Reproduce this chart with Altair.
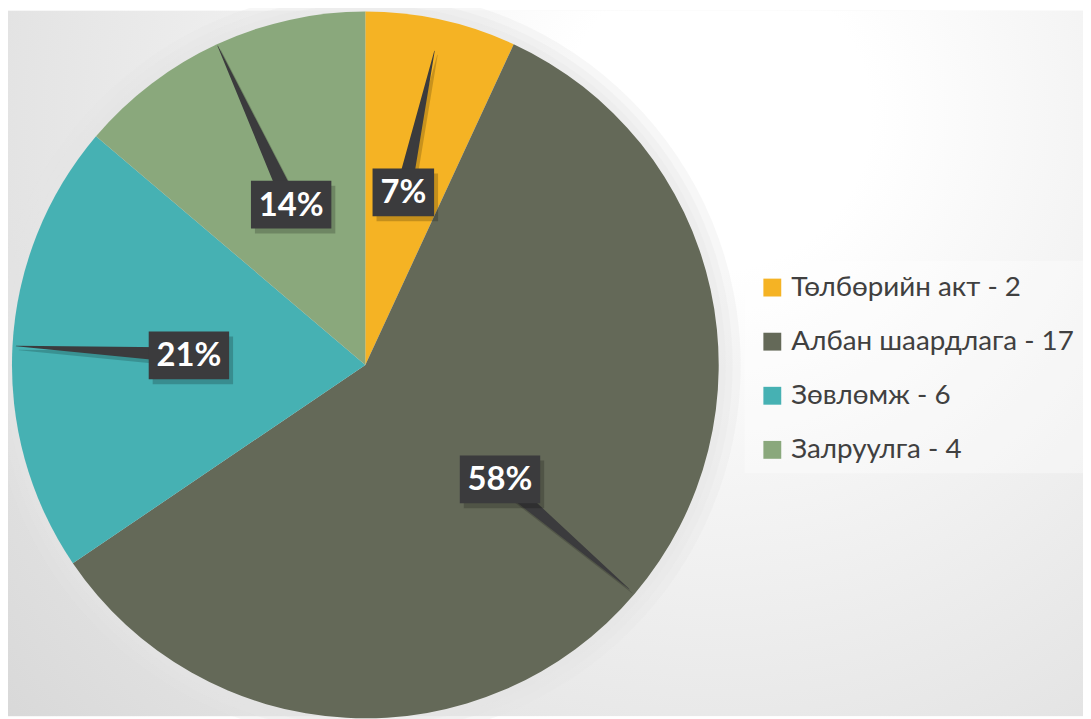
import math
import altair as alt
import pandas as pd

# ---- data ----
categories = ["Төлбөрийн акт", "Албан шаардлага", "Зөвлөмж", "Залруулга"]
counts = [2, 17, 6, 4]
pct_labels = ["7%", "58%", "21%", "14%"]
colors = ["#F5B324", "#646958", "#46B1B3", "#8AA87C"]

# ---- layout (styling) ----
W, H = 1083, 711
CX, CY, R = 360, 357, 356
LABEL_R = 0.5
TIP_R = [0.91, 0.98, 0.99, 0.995]
BOX_H = 48
BOX_FILL = "#3b3b3d"

legend_names = [f"{c} - {n}" for c, n in zip(categories, counts)]
total = sum(counts)

pie_rows, box_rows, lead_rows = [], [], []
cum = 0
for i, (cat, n, lab) in enumerate(zip(categories, counts, pct_labels)):
    a0 = cum / total * 2 * math.pi
    a1 = (cum + n) / total * 2 * math.pi
    mid = (a0 + a1) / 2
    cum += n
    lx = CX + LABEL_R * R * math.sin(mid)
    ly = CY - LABEL_R * R * math.cos(mid)
    tx = CX + TIP_R[i] * R * math.sin(mid)
    ty = CY - TIP_R[i] * R * math.cos(mid)
    bw = 24 + 19 * len(lab)
    pie_rows.append({"legend": legend_names[i], "count": n, "idx": i})
    box_rows.append({"label": lab, "x": lx - bw / 2, "x2": lx + bw / 2,
                     "y": ly - BOX_H / 2, "y2": ly + BOX_H / 2, "cx": lx, "cy": ly})
    lead_rows.append({"id": i, "o": 0, "x": lx, "y": ly, "s": 16})
    lead_rows.append({"id": i, "o": 1, "x": tx, "y": ty, "s": 0.5})

pie_df = pd.DataFrame(pie_rows)
box_df = pd.DataFrame(box_rows)
lead_df = pd.DataFrame(lead_rows)
one = pd.DataFrame({"a": [0]})

bg = alt.Chart(one).mark_rect(
    fill=alt.RadialGradient(
        gradient="radial",
        stops=[alt.GradientStop(color="#ffffff", offset=0),
               alt.GradientStop(color="#ffffff", offset=0.15),
               alt.GradientStop(color="#d4d4d4", offset=1)],
        x1=0.66, y1=0.27, r1=0, x2=0.66, y2=0.27, r2=0.95,
    )
).encode(x=alt.value(0), x2=alt.value(W), y=alt.value(0), y2=alt.value(H))

halo = [
    alt.Chart(one).mark_arc(outerRadius=R + r, theta=0, theta2=6.2832,
                            fill="#e6e6e6", opacity=0.3)
    .encode(x=alt.value(CX), y=alt.value(CY))
    for r in (22, 14, 7)
]

pie = alt.Chart(pie_df).mark_arc(outerRadius=R).encode(
    theta=alt.Theta("count:Q", stack=True),
    order=alt.Order("idx:Q"),
    color=alt.Color(
        "legend:N",
        scale=alt.Scale(domain=legend_names, range=colors),
        legend=alt.Legend(
            orient="none", legendX=756, legendY=265, title=None,
            symbolType="square", symbolSize=324, symbolStrokeWidth=0,
            labelFontSize=28, labelFont="Lato", labelColor="#404040",
            labelLimit=600, rowPadding=26.5, labelOffset=5, padding=0,
        ),
    ),
    x=alt.value(CX), y=alt.value(CY),
)

lead_shadow = alt.Chart(lead_df).transform_calculate(
    xs="datum.x + 3", ys="datum.y + 4"
).mark_trail(color="#000000", opacity=0.18).encode(
    x=alt.X("xs:Q", scale=None), y=alt.Y("ys:Q", scale=None),
    size=alt.Size("s:Q", scale=None, legend=None),
    detail="id:N", order="o:Q",
)
lead = alt.Chart(lead_df).mark_trail(color=BOX_FILL).encode(
    x=alt.X("x:Q", scale=None), y=alt.Y("y:Q", scale=None),
    size=alt.Size("s:Q", scale=None, legend=None),
    detail="id:N", order="o:Q",
)

box_shadow = alt.Chart(box_df).transform_calculate(
    xa="datum.x + 4", xb="datum.x2 + 4", ya="datum.y + 5", yb="datum.y2 + 5"
).mark_rect(color="#000000", opacity=0.2).encode(
    x=alt.X("xa:Q", scale=None), x2="xb:Q",
    y=alt.Y("ya:Q", scale=None), y2="yb:Q",
)
box = alt.Chart(box_df).mark_rect(color=BOX_FILL).encode(
    x=alt.X("x:Q", scale=None), x2="x2:Q",
    y=alt.Y("y:Q", scale=None), y2="y2:Q",
)
txt = alt.Chart(box_df).mark_text(
    color="white", font="Lato", fontWeight="bold", fontSize=33,
    align="center", baseline="middle", dy=1,
).encode(
    x=alt.X("cx:Q", scale=None), y=alt.Y("cy:Q", scale=None), text="label:N",
)

legend_bg = alt.Chart(one).mark_rect(fill="#ffffff", opacity=0.35).encode(
    x=alt.value(742), x2=alt.value(W), y=alt.value(252), y2=alt.value(466)
)

chart = alt.layer(
    bg, *halo, legend_bg, pie, lead_shadow, lead, box_shadow, box, txt
).properties(
    width=W, height=H, padding=0, autosize="none", background="#ffffff"
).configure_view(stroke=None)

chart.save("out.html", embed_options={"renderer": "svg", "actions": False})
